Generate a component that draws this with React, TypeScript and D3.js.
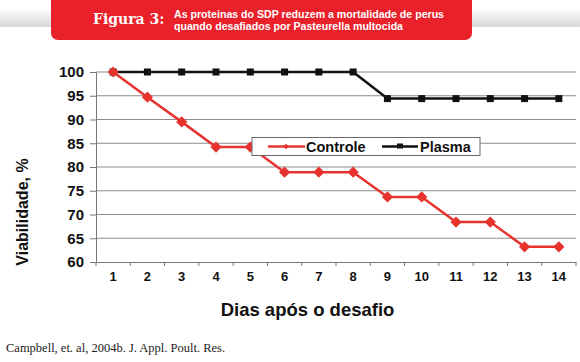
import { useEffect, useRef } from "react";
import * as d3 from "d3";

const days = [1, 2, 3, 4, 5, 6, 7, 8, 9, 10, 11, 12, 13, 14];
const controle = [100, 94.7, 89.5, 84.2, 84.2, 78.9, 78.9, 78.9, 73.7, 73.7, 68.4, 68.4, 63.2, 63.2];
const plasma = [100, 100, 100, 100, 100, 100, 100, 100, 94.4, 94.4, 94.4, 94.4, 94.4, 94.4];
const yTicks = [60, 65, 70, 75, 80, 85, 90, 95, 100];

const width = 580;
const height = 362;
const sans = "Liberation Sans, Arial";

export default function App() {
  const svgRef = useRef<SVGSVGElement | null>(null);

  useEffect(() => {
    if (!svgRef.current) return;
    const svg = d3.select(svgRef.current);
    svg.selectAll("*").remove();

    const left = 96, right = 576, top = 72, bottom = 262;
    const x = d3.scaleBand<number>().domain(days).range([left, right]);
    const y = d3.scaleLinear().domain([60, 100]).range([bottom, top]);
    const cx = (d: number) => (x(d) ?? 0) + x.bandwidth() / 2;

    // header grey band
    const grad = svg.append("defs").append("linearGradient")
      .attr("id", "band").attr("x1", 0).attr("y1", 0).attr("x2", 0).attr("y2", 1);
    grad.append("stop").attr("offset", "0%").attr("stop-color", "#ffffff");
    grad.append("stop").attr("offset", "100%").attr("stop-color", "#d8d8d8");
    svg.append("rect").attr("x", 0).attr("y", 8).attr("width", width).attr("height", 19).attr("fill", "url(#band)");

    svg.append("rect")
      .attr("x", 51).attr("y", -8).attr("width", 421).attr("height", 48)
      .attr("rx", 7).attr("fill", "#e8212b");
    svg.append("text").attr("x", 93).attr("y", 23.5)
      .attr("font-family", "DejaVu Serif").attr("font-weight", "bold").attr("font-size", 14)
      .attr("fill", "#fff").text("Figura 3:");
    const cap = svg.append("text").attr("font-family", sans)
      .attr("font-weight", "bold").attr("font-size", 10.6).attr("fill", "#fff");
    cap.append("tspan").attr("x", 174).attr("y", 18).text("As proteinas do SDP reduzem a mortalidade de perus");
    cap.append("tspan").attr("x", 174).attr("y", 29.5).text("quando desafiados por Pasteurella multocida");

    // grid
    svg.append("g").selectAll("line").data(yTicks.filter(t => t > 60)).join("line")
      .attr("x1", left).attr("x2", right).attr("y1", d => y(d)).attr("y2", d => y(d))
      .attr("stroke", "#8c8c8c").attr("stroke-width", 1);

    // axes
    const yAxis = svg.append("g").attr("transform", `translate(${left},0)`)
      .call(d3.axisLeft(y).tickValues(yTicks).tickSize(6).tickPadding(6));
    yAxis.select(".domain").attr("stroke", "#777");
    yAxis.selectAll(".tick line").attr("stroke", "#777");
    yAxis.selectAll("text").attr("font-family", sans).attr("font-weight", "bold")
      .attr("font-size", 15).attr("fill", "#111");

    const xAxis = svg.append("g").attr("transform", `translate(0,${bottom})`)
      .call(d3.axisBottom(x).tickSize(0).tickPadding(10));
    xAxis.select(".domain").attr("stroke", "#777");
    xAxis.selectAll("text").attr("font-family", sans).attr("font-weight", "bold")
      .attr("font-size", 13).attr("fill", "#111");
    svg.append("g").selectAll("line").data(days).join("line")
      .attr("x1", d => x(d) ?? 0).attr("x2", d => x(d) ?? 0)
      .attr("y1", bottom).attr("y2", bottom + 4).attr("stroke", "#777");
    svg.append("line").attr("x1", right).attr("x2", right).attr("y1", bottom).attr("y2", bottom + 4).attr("stroke", "#777");

    const line = d3.line<number>().x((_, i) => cx(days[i])).y(d => y(d));

    // plasma
    svg.append("path").datum(plasma).attr("d", line).attr("fill", "none")
      .attr("stroke", "#111").attr("stroke-width", 2.5);
    svg.append("g").selectAll("rect").data(plasma).join("rect")
      .attr("x", (_, i) => cx(days[i]) - 3.5).attr("y", d => y(d) - 3.5)
      .attr("width", 7).attr("height", 7).attr("fill", "#111");

    // controle
    const red = "#e6332e";
    svg.append("path").datum(controle).attr("d", line).attr("fill", "none")
      .attr("stroke", red).attr("stroke-width", 2.5);
    const diamond = d3.symbol().type(d3.symbolDiamond2).size(80);
    svg.append("g").selectAll("path").data(controle).join("path")
      .attr("d", diamond)
      .attr("transform", (d, i) => `translate(${cx(days[i])},${y(d)})`)
      .attr("fill", red);

    // legend
    const lg = svg.append("g");
    lg.append("rect").attr("x", 252).attr("y", 137.5).attr("width", 228).attr("height", 18)
      .attr("fill", "#fff").attr("stroke", "#666").attr("stroke-width", 1);
    lg.append("line").attr("x1", 268).attr("x2", 305).attr("y1", 146.5).attr("y2", 146.5)
      .attr("stroke", red).attr("stroke-width", 2.5);
    lg.append("path").attr("d", d3.symbol().type(d3.symbolDiamond2).size(20))
      .attr("transform", "translate(286,146.5)").attr("fill", red);
    lg.append("text").attr("x", 306).attr("y", 151.5).attr("font-family", sans)
      .attr("font-weight", "bold").attr("font-size", 14.5).attr("fill", "#111").text("Controle");
    lg.append("line").attr("x1", 382).attr("x2", 418).attr("y1", 146.5).attr("y2", 146.5)
      .attr("stroke", "#111").attr("stroke-width", 2.5);
    lg.append("rect").attr("x", 397).attr("y", 143.5).attr("width", 6).attr("height", 5).attr("fill", "#111");
    lg.append("text").attr("x", 420).attr("y", 151.5).attr("font-family", sans)
      .attr("font-weight", "bold").attr("font-size", 14.5).attr("fill", "#111").text("Plasma");

    // axis titles
    svg.append("text").attr("transform", "translate(28,212) rotate(-90)")
      .attr("text-anchor", "middle").attr("font-family", sans)
      .attr("font-weight", "bold").attr("font-size", 16).attr("fill", "#111").text("Viabilidade, %");
    svg.append("text").attr("x", 307.5).attr("y", 316).attr("text-anchor", "middle")
      .attr("font-family", sans).attr("font-weight", "bold")
      .attr("font-size", 18.5).attr("fill", "#111").text("Dias após o desafio");

    svg.append("text").attr("x", 6).attr("y", 352).attr("font-family", "Liberation Serif, Times New Roman")
      .attr("font-size", 12.5).attr("fill", "#222").text("Campbell, et. al, 2004b.  J. Appl. Poult. Res.");
  }, []);

  return (
    <svg ref={svgRef} width={width} height={height}
      style={{ position: "absolute", left: 0, top: 0, background: "#fff" }} />
  );
}
